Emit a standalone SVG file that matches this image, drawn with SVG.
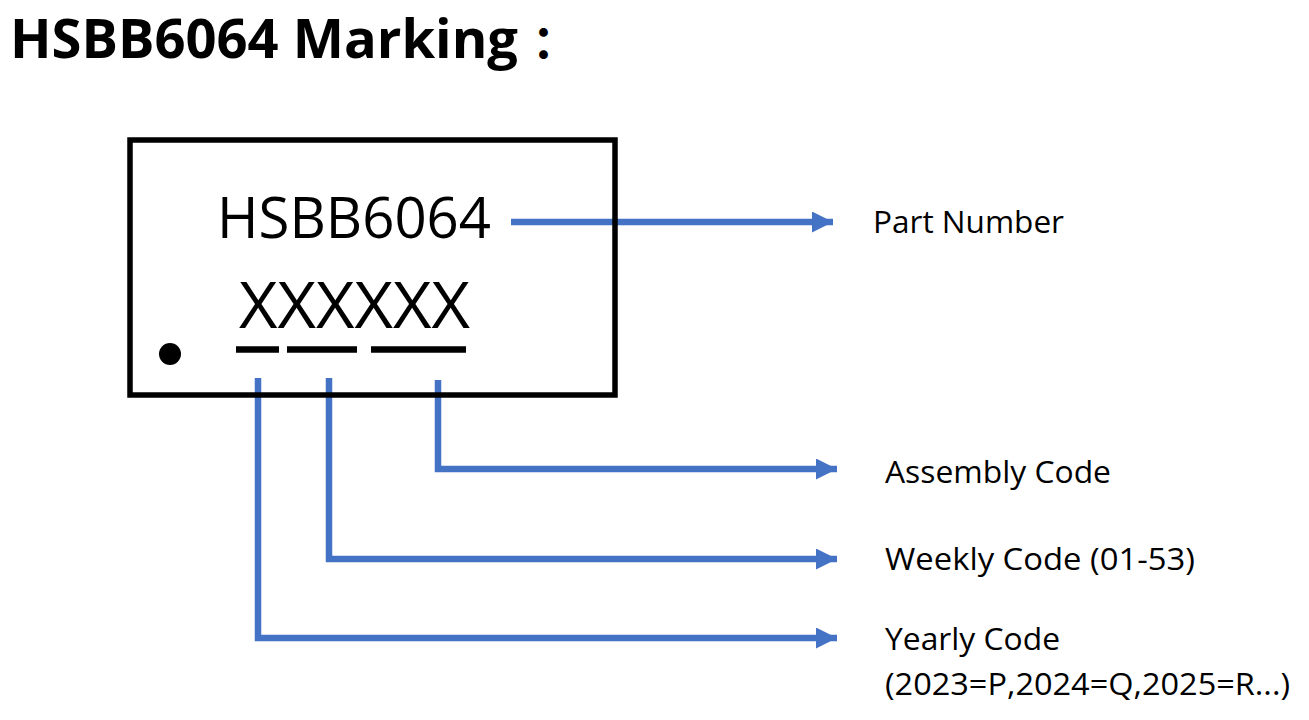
<svg xmlns="http://www.w3.org/2000/svg" width="1309" height="720" viewBox="0 0 1309 720">
<defs>
<style>
.t{font-family:"Open Sans","Noto Sans",sans-serif;fill:#000}
.lbl{font-size:31px}
.con{fill:none;stroke:#4472C4;stroke-width:6.5;stroke-linejoin:miter;stroke-linecap:butt}
.ul{stroke:#000;stroke-width:6.5}
</style>
<marker id="ah" markerUnits="userSpaceOnUse" markerWidth="21" markerHeight="21" viewBox="0 0 21 21" refX="21" refY="10.5" orient="auto">
<path d="M0,0 L21,10.5 L0,21 Z" fill="#4472C4"/>
</marker>
</defs>
<rect width="1309" height="720" fill="#fff"/>
<g id="title">
<text class="t" x="10" y="58" font-size="54" font-weight="bold"><tspan textLength="508" lengthAdjust="spacingAndGlyphs">HSBB6064 Marking</tspan><tspan dx="14" font-size="46" font-family="'Noto Sans CJK SC',sans-serif">：</tspan></text>
</g>
<g id="connectors">
<path class="con" d="M511,222 H833" marker-end="url(#ah)"/>
<path class="con" d="M438,380 V469 H837" marker-end="url(#ah)"/>
<path class="con" d="M329,378 V559 H837" marker-end="url(#ah)"/>
<path class="con" d="M258,378 V638 H837" marker-end="url(#ah)"/>
</g>
<g id="chip">
<rect x="130" y="140" width="485" height="255" fill="none" stroke="#000" stroke-width="5.5"/>
<text class="t" x="217" y="238" font-size="57" textLength="274" lengthAdjust="spacingAndGlyphs">HSBB6064</text>
<text class="t" x="239" y="328" font-size="64" textLength="231" lengthAdjust="spacingAndGlyphs">XXXXXX</text>
<line class="ul" x1="236" y1="349.5" x2="279" y2="349.5"/>
<line class="ul" x1="287" y1="349.5" x2="357" y2="349.5"/>
<line class="ul" x1="371" y1="349.5" x2="466" y2="349.5"/>
<circle cx="170" cy="354" r="11" fill="#000"/>
</g>
<g id="label-part">
<text class="t lbl" x="873" y="233" textLength="191" lengthAdjust="spacingAndGlyphs">Part Number</text>
</g>
<g id="label-assembly">
<text class="t lbl" x="885" y="483" textLength="226" lengthAdjust="spacingAndGlyphs">Assembly Code</text>
</g>
<g id="label-weekly">
<text class="t lbl" x="885" y="570" textLength="310" lengthAdjust="spacingAndGlyphs">Weekly Code (01-53)</text>
</g>
<g id="label-yearly">
<text class="t lbl" x="885" y="650" textLength="175" lengthAdjust="spacingAndGlyphs">Yearly Code</text>
<text class="t lbl" x="885" y="695" textLength="405" lengthAdjust="spacingAndGlyphs">(2023=P,2024=Q,2025=R...)</text>
</g>
</svg>
